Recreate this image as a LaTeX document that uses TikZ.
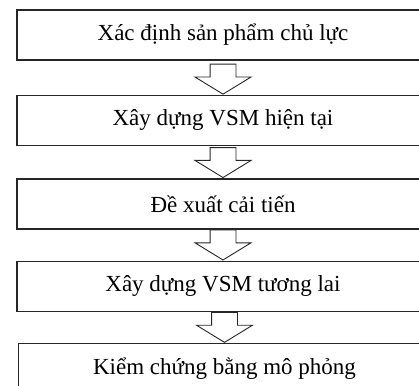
\documentclass[tikz,border=0pt]{standalone}
\usepackage{fontspec}
\setmainfont{Liberation Serif}
\usetikzlibrary{shapes.arrows,positioning}

\begin{document}
\begin{tikzpicture}[
    x=1pt, y=1pt,
    node distance=32pt,
    stage/.style={rectangle, draw=black!85, line width=1.4pt, minimum width=412pt, minimum height=50pt, inner sep=0pt, font=\fontsize{23}{27}\selectfont},
    flow/.style={single arrow, draw=black!85, line width=0.9pt, rotate=-90, inner xsep=0pt, inner ysep=12.5pt, minimum height=30pt, single arrow head extend=15pt, single arrow tip angle=117, anchor=tip}
]
\useasboundingbox (0,0) rectangle (419,-385);

% Stages of the procedure, top to bottom
\node[stage] (s1) at (223,-35) {Xác định sản phẩm chủ lực};
\node[stage, below=34pt of s1] (s2) {Xây dựng VSM hiện tại};
\node[stage, below=32pt of s2] (s3) {Đề xuất cải tiến};
\node[stage, below=31pt of s3] (s4) {Xây dựng VSM tương lai};
\node[stage, below=31pt of s4, xshift=1.5pt] (s5) {Kiểm chứng bằng mô phỏng};

% Hollow arrows, tip resting on the next stage
\node[flow] (a1) at (s2.north) {};
\node[flow] (a2) at (s3.north) {};
\node[flow] (a3) at (s4.north) {};
\node[flow] (a4) at (s5.north) {};

\end{tikzpicture}
\end{document}
